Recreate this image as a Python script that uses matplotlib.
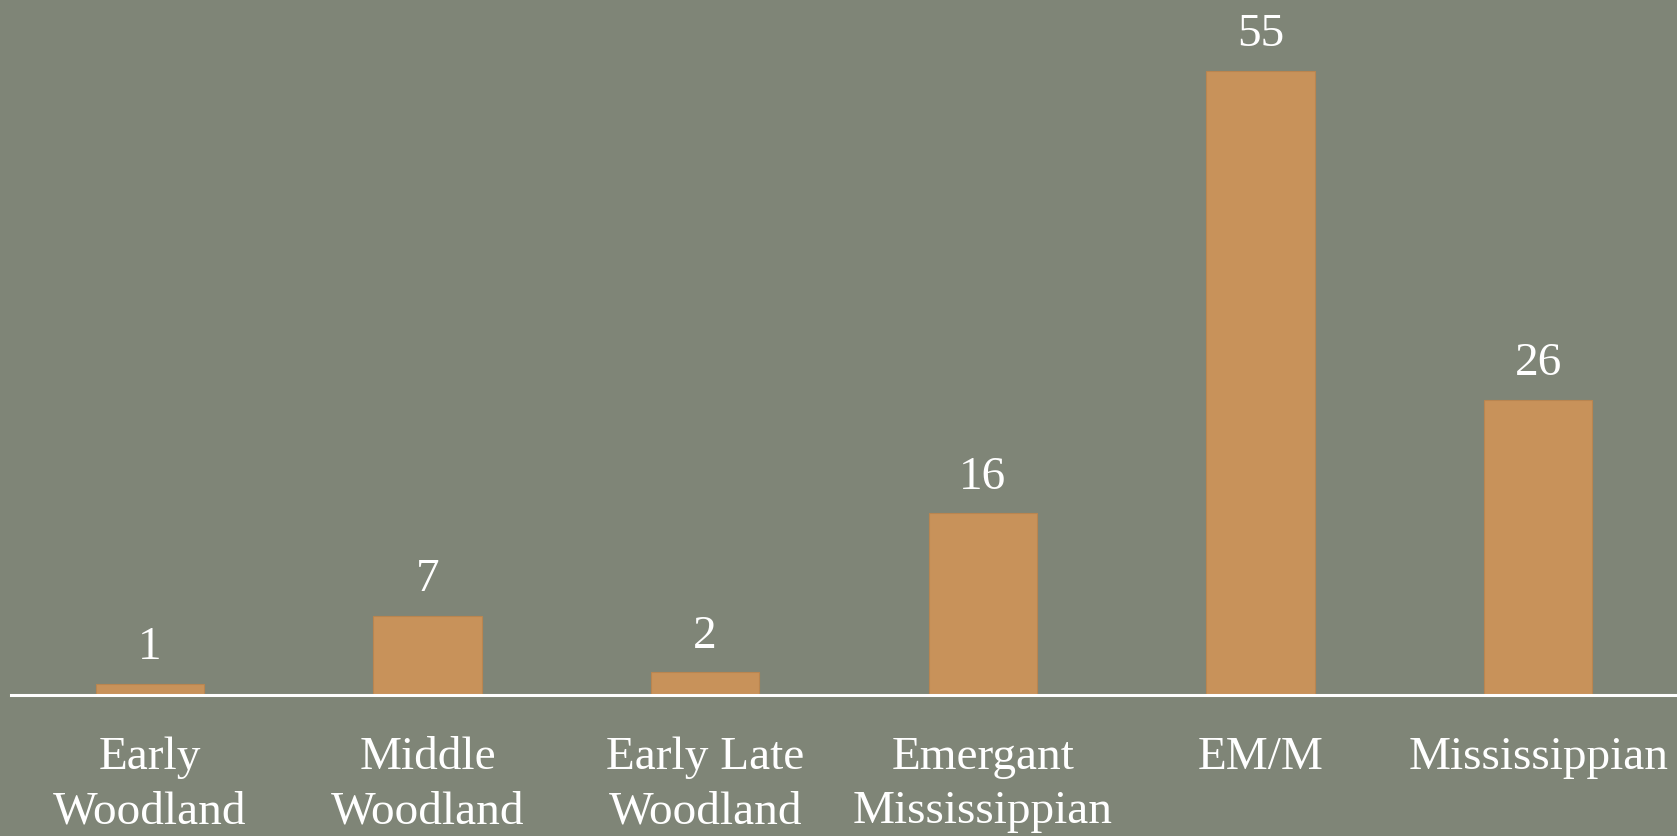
import matplotlib
matplotlib.use("Agg")
import matplotlib.pyplot as plt

categories = ["Early\nWoodland", "Middle\nWoodland", "Early Late\nWoodland",
              "Emergant\nMississippian", "EM/M", "Mississippian"]
values = [1, 7, 2, 16, 55, 26]

W, H = 1677, 836
fig = plt.figure(figsize=(W / 100, H / 100), dpi=100)
bg = "#7f8577"
fig.patch.set_facecolor(bg)

base_y = 695
left, right = 11, 1677
ax = fig.add_axes([left / W, (H - base_y) / H, (right - left) / W, base_y / H])
ax.set_facecolor(bg)

x = range(len(values))
bars = ax.bar(x, values, width=0.39, color="#c8925a", edgecolor="#b98550", linewidth=0.8, zorder=2)
ax.set_xlim(-0.5, 5.5)
ax.set_ylim(0, base_y / 11.35)

for s in ["top", "right", "left"]:
    ax.spines[s].set_visible(False)
ax.spines["bottom"].set_color("white")
ax.spines["bottom"].set_linewidth(2.2)
ax.spines["bottom"].set_zorder(3)

ax.set_yticks([])
ax.set_xticks(list(x))
ax.set_xticklabels(categories, fontfamily="Liberation Serif", fontsize=34, color="white",
                   linespacing=1.36)
ax.tick_params(axis="x", length=0, pad=30)

for xi, v in zip(x, values):
    ax.annotate(str(v), (xi, v), xytext=(0, 10.5), textcoords="offset points",
                ha="center", va="bottom", fontfamily="Liberation Serif",
                fontsize=34, color="white")

fig.savefig("out.png", dpi=100, facecolor=bg)
